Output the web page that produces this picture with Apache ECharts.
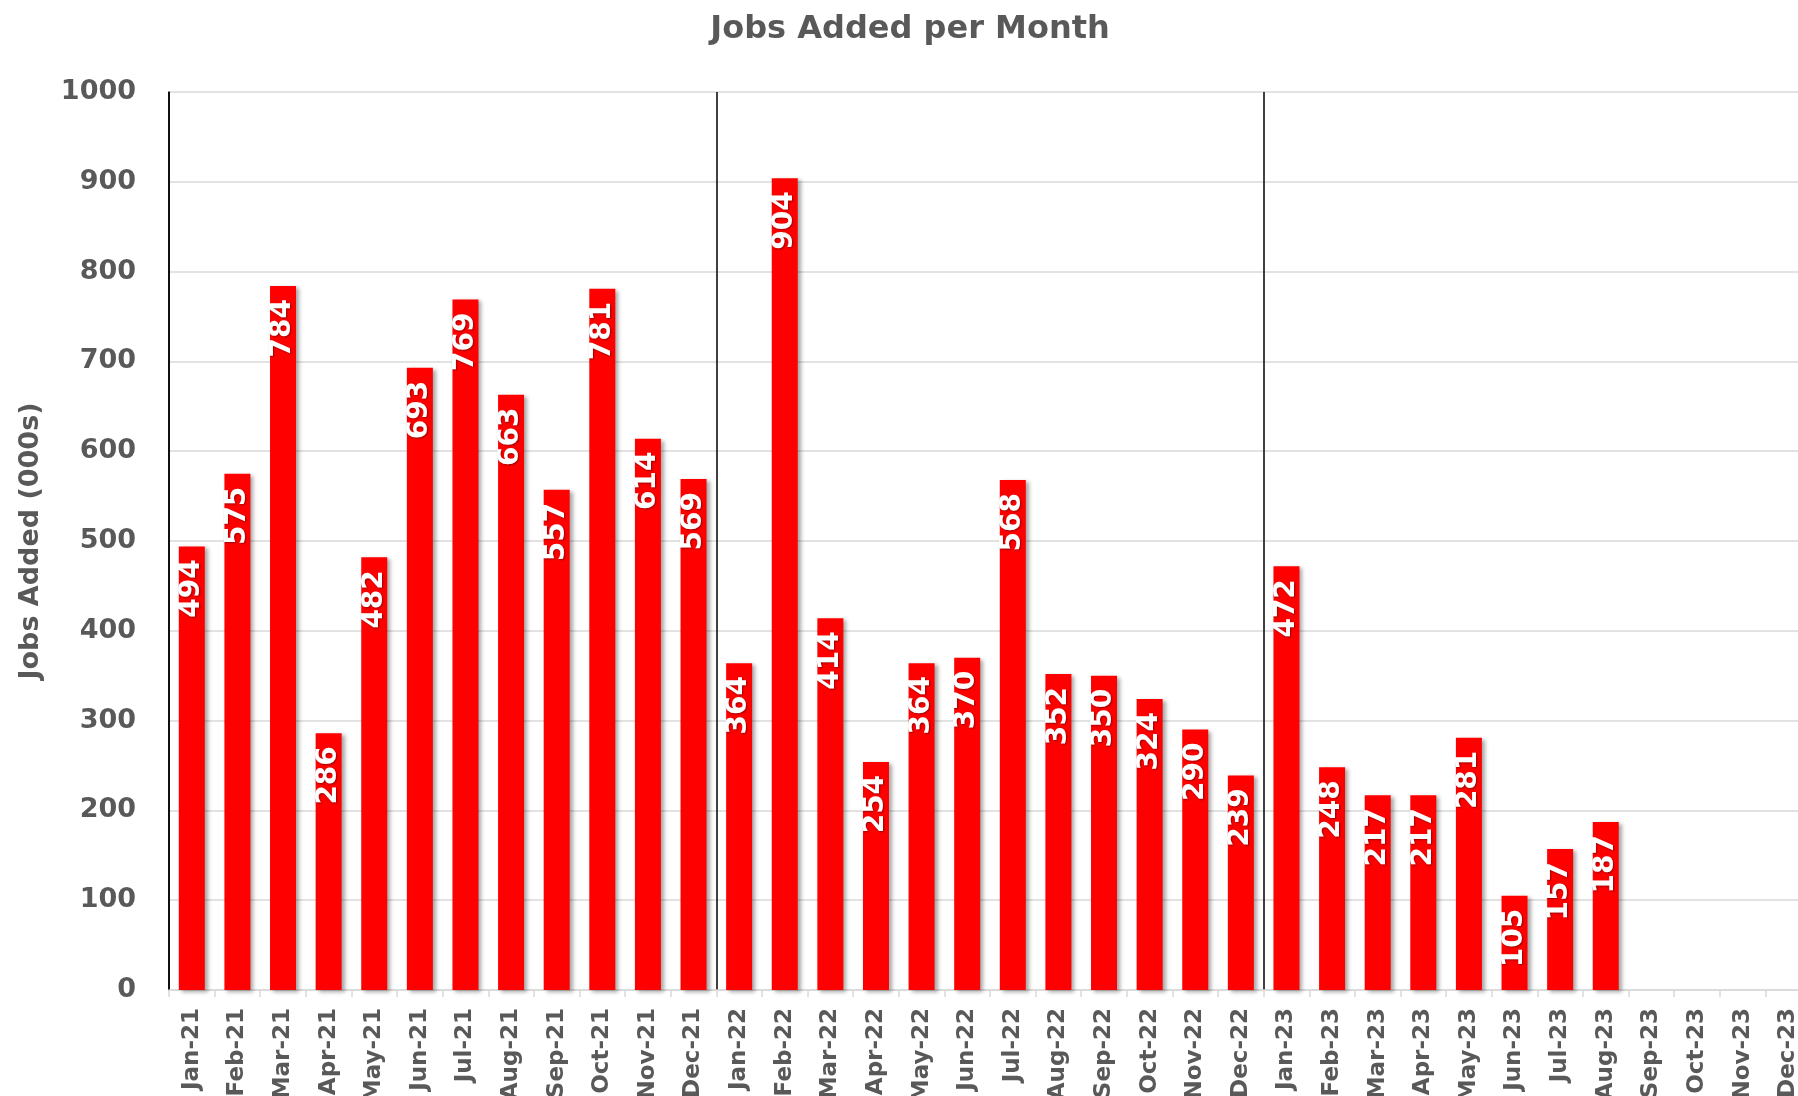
<!DOCTYPE html>
<html>
<head>
<meta charset="utf-8">
<script src="https://cdn.jsdelivr.net/npm/echarts@6/dist/echarts.min.js"></script>
<style>
html,body{margin:0;padding:0;background:#fff;}
#chart{width:1798px;height:1096px;}
</style>
</head>
<body>
<div id="chart"></div>
<script>
const months = ['Jan-21','Feb-21','Mar-21','Apr-21','May-21','Jun-21','Jul-21','Aug-21','Sep-21','Oct-21','Nov-21','Dec-21',
  'Jan-22','Feb-22','Mar-22','Apr-22','May-22','Jun-22','Jul-22','Aug-22','Sep-22','Oct-22','Nov-22','Dec-22',
  'Jan-23','Feb-23','Mar-23','Apr-23','May-23','Jun-23','Jul-23','Aug-23','Sep-23','Oct-23','Nov-23','Dec-23'];
const jobs2021 = [494,575,784,286,482,693,769,663,557,781,614,569];
const jobs2022 = [364,904,414,254,364,370,568,352,350,324,290,239];
const jobs2023 = [472,248,217,217,281,105,157,187,null,null,null,null];
const yTicks = [0,100,200,300,400,500,600,700,800,900,1000];

const jobsAdded = jobs2021.concat(jobs2022, jobs2023);
const FONT = 'DejaVu Sans';
const GRAY = '#595959';

const chart = echarts.init(document.getElementById('chart'), null, {renderer:'canvas'});
chart.setOption({
  backgroundColor:'#ffffff',
  animation:false,
  title:{
    text:'Jobs Added per Month',
    left:905, textAlign:'center', top:9,
    textStyle:{fontFamily:FONT, fontWeight:'bold', fontSize:32, color:GRAY}
  },
  grid:{left:169, top:92, width:1642, bottom:106, containLabel:false, outerBoundsMode:'none'},
  xAxis:{
    type:'category',
    data:months,
    boundaryGap:true,
    axisLine:{show:true, lineStyle:{color:'#d9d9d9', width:1.5}},
    axisTick:{show:true, interval:0, length:7, lineStyle:{color:'#d9d9d9', width:1.5}},
    splitLine:{show:true, interval:function(i){return i % 12 === 0;}, lineStyle:{color:'#000', width:1.5}},
    axisLabel:{interval:0, rotate:90, margin:18, fontFamily:FONT, fontWeight:'bold', fontSize:23, color:GRAY}
  },
  yAxis:{
    type:'value',
    min:yTicks[0], max:yTicks[yTicks.length-1], interval:100,
    name:'Jobs Added (000s)',
    nameLocation:'middle', nameRotate:90, nameGap:125,
    nameTextStyle:{fontFamily:FONT, fontWeight:'bold', fontSize:27, color:GRAY},
    axisLine:{show:true, lineStyle:{color:'#000', width:1.5}},
    axisTick:{show:false},
    splitLine:{show:true, lineStyle:{color:'#d9d9d9', width:1.5}},
    axisLabel:{margin:33, fontFamily:FONT, fontWeight:'bold', fontSize:27, color:GRAY,
      formatter:function(v){return String(v);}}
  },
  series:[{
    type:'bar',
    data:jobsAdded,
    barWidth:26,
    itemStyle:{color:'#ff0000', shadowColor:'rgba(0,0,0,0.35)', shadowBlur:4, shadowOffsetX:3, shadowOffsetY:2},
    label:{
      show:true, position:'insideTop', distance:13, rotate:90,
      align:'right', verticalAlign:'middle',
      fontFamily:FONT, fontWeight:'bold', fontSize:28, color:'#ffffff',
      textShadowColor:'rgba(0,0,0,0.4)', textShadowBlur:2, textShadowOffsetX:1, textShadowOffsetY:1
    }
  }]
});
</script>
</body>
</html>
